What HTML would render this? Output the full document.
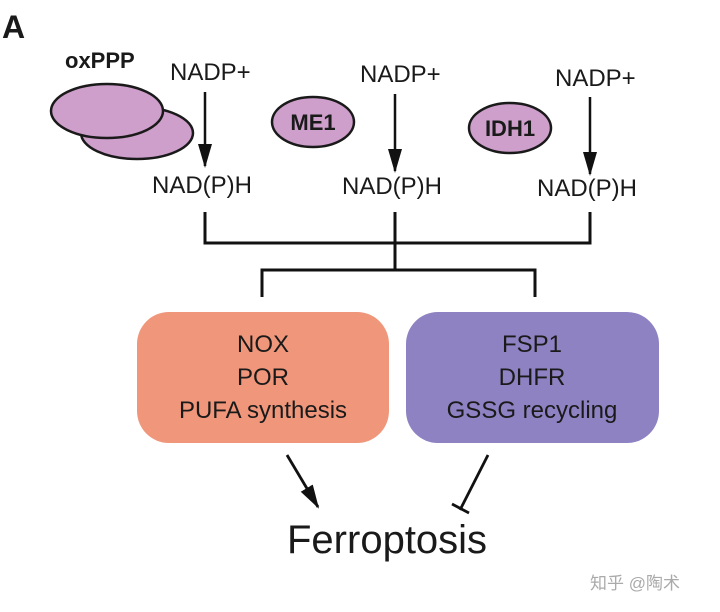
<!DOCTYPE html>
<html><head><meta charset="utf-8"><style>
html,body{margin:0;padding:0;background:#fff;}
svg{display:block;}
text{font-family:"Liberation Sans",Arial,sans-serif;fill:#1a1a1a;}
</style></head><body>
<svg width="720" height="612" viewBox="0 0 720 612" xmlns="http://www.w3.org/2000/svg">
<defs>
<marker id="ah" markerWidth="24" markerHeight="16" refX="22" refY="8" orient="auto" markerUnits="userSpaceOnUse">
<path d="M0,1 L24,8 L0,15 z" fill="#111"/></marker>
</defs>
<text x="2" y="38" font-size="32" font-weight="bold">A</text>
<text x="65" y="68" font-size="22" font-weight="bold">oxPPP</text>
<ellipse cx="137" cy="133" rx="56" ry="26" fill="#cf9fcc" stroke="#1a1a1a" stroke-width="2.5"/>
<ellipse cx="107" cy="111" rx="56" ry="27" fill="#cf9fcc" stroke="#1a1a1a" stroke-width="2.5"/>
<text x="170" y="80" font-size="24">NADP+</text>
<line x1="205" y1="92" x2="205" y2="166" stroke="#111" stroke-width="2.5" marker-end="url(#ah)"/>
<text x="152" y="193" font-size="24">NAD(P)H</text>

<ellipse cx="313" cy="122" rx="41" ry="25" fill="#cf9fcc" stroke="#1a1a1a" stroke-width="2.5"/>
<text x="313" y="130" font-size="22" font-weight="bold" text-anchor="middle">ME1</text>
<text x="360" y="82" font-size="24">NADP+</text>
<line x1="395" y1="94" x2="395" y2="171" stroke="#111" stroke-width="2.5" marker-end="url(#ah)"/>
<text x="342" y="194" font-size="24">NAD(P)H</text>

<ellipse cx="510" cy="128" rx="41" ry="25" fill="#cf9fcc" stroke="#1a1a1a" stroke-width="2.5"/>
<text x="510" y="136" font-size="22" font-weight="bold" text-anchor="middle">IDH1</text>
<text x="555" y="86" font-size="24">NADP+</text>
<line x1="590" y1="97" x2="590" y2="174" stroke="#111" stroke-width="2.5" marker-end="url(#ah)"/>
<text x="537" y="196" font-size="24">NAD(P)H</text>

<path d="M205,212 V243 H590 V212 M395,212 V270 M262,297 V270 H535 V297" fill="none" stroke="#111" stroke-width="3"/>

<rect x="137" y="312" width="252" height="131" rx="32" fill="#f0977b"/>
<rect x="406" y="312" width="253" height="131" rx="32" fill="#8e82c2"/>
<g font-size="24" text-anchor="middle">
<text x="263" y="352">NOX</text><text x="263" y="385">POR</text><text x="263" y="418">PUFA synthesis</text>
<text x="532" y="352">FSP1</text><text x="532" y="385">DHFR</text><text x="532" y="418">GSSG recycling</text>
</g>
<line x1="287" y1="455" x2="318" y2="507" stroke="#111" stroke-width="2.8" marker-end="url(#ah)"/>
<line x1="488" y1="455" x2="460" y2="510" stroke="#111" stroke-width="2.8"/>
<line x1="452" y1="504" x2="469" y2="513" stroke="#111" stroke-width="2.8"/>
<text x="287" y="553" font-size="40">Ferroptosis</text>
<text x="590" y="589" font-size="17" style="fill:#aaa" font-family="'Liberation Sans','Noto Sans CJK SC',sans-serif">知乎 @陶术</text>
</svg>
</body></html>
